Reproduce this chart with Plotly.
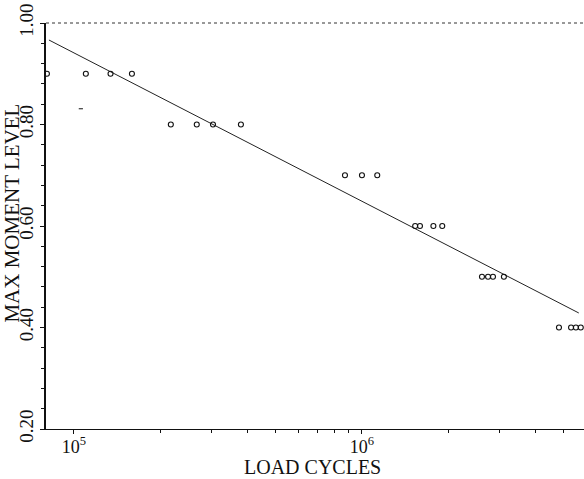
import numpy as np
import plotly.graph_objects as go

# Data
cycles = [8.06e4, 1.10e5, 1.34e5, 1.59e5,
          2.17e5, 2.67e5, 3.04e5, 3.80e5,
          8.73e5, 1.00e6, 1.13e6,
          1.53e6, 1.59e6, 1.77e6, 1.90e6,
          2.61e6, 2.74e6, 2.85e6, 3.11e6,
          4.83e6, 5.32e6, 5.53e6, 5.75e6]
levels = [0.90, 0.90, 0.90, 0.90,
          0.80, 0.80, 0.80, 0.80,
          0.70, 0.70, 0.70,
          0.60, 0.60, 0.60, 0.60,
          0.50, 0.50, 0.50, 0.50,
          0.40, 0.40, 0.40, 0.40]
stray_x = [1.057e5]
stray_y = [0.831]
fit_x = [8.19e4, 5.66e6]
fit_y = [0.9665, 0.4286]

y_ticks = [0.20, 0.40, 0.60, 0.80, 1.00]
y_ticktext = ["0.20", "0.40", "0.60", "0.80", "1.00"]
x_ticks = [1e5, 1e6]
x_ticktext = ["10<sup>5</sup>", "10<sup>6</sup>"]
x_minor = [2e5, 3e5, 4e5, 5e5, 6e5, 7e5, 8e5, 9e5, 2e6, 3e6, 4e6, 5e6]

FONT = "Liberation Serif"

fig = go.Figure()
fig.add_trace(go.Scatter(x=fit_x, y=fit_y, mode="lines",
                         line=dict(color="#222", width=1), showlegend=False))
fig.add_trace(go.Scatter(x=cycles, y=levels, mode="markers",
                         marker=dict(symbol="circle-open", size=5, color="#111",
                                     line=dict(width=1.1, color="#111")),
                         showlegend=False))
fig.add_trace(go.Scatter(x=stray_x, y=stray_y, mode="markers",
                         marker=dict(symbol="line-ew", size=3, color="#111",
                                     line=dict(width=1, color="#111")),
                         showlegend=False))

fig.update_layout(
    width=584, height=479,
    margin=dict(l=46, r=0, t=23, b=50),
    paper_bgcolor="white", plot_bgcolor="white",
    font=dict(family=FONT, size=18, color="#111"),
    xaxis=dict(type="log", range=[np.log10(8.0e4), np.log10(5.9e6)],
               tickvals=x_ticks, ticktext=x_ticktext,
               ticks="outside", ticklen=4, tickwidth=1, tickcolor="#111",
               ticklabelstandoff=-3,
               minor=dict(tickvals=x_minor, ticks="outside", ticklen=3,
                          tickwidth=1, tickcolor="#111"),
               showline=True, linecolor="#111", linewidth=1,
               mirror=False, showgrid=False, zeroline=False,
               tickfont=dict(family=FONT, size=18)),
    yaxis=dict(range=[0.20, 1.00], tickvals=y_ticks, ticktext=y_ticktext,
               tickangle=-90, ticks="outside", ticklen=4, tickwidth=1,
               tickcolor="#111",
               minor=dict(dtick=0.04, tick0=0.2, ticks="outside", ticklen=3,
                          tickwidth=1, tickcolor="#111", showgrid=False),
               showline=True, linecolor="#111", linewidth=1.5,
               showgrid=False, zeroline=False,
               tickfont=dict(family=FONT, size=19)),
    shapes=[dict(type="line", xref="paper", yref="paper", x0=0, x1=1, y0=1, y1=1,
                 line=dict(color="#333", width=1, dash="dot"))],
    annotations=[
        dict(text="LOAD CYCLES", xref="paper", yref="paper", x=0.496, y=-0.094,
             xanchor="center", yanchor="middle", showarrow=False,
             font=dict(family=FONT, size=20)),
        dict(text="MAX MOMENT LEVEL", xref="paper", yref="paper", x=-0.064, y=0.532,
             xanchor="center", yanchor="middle", textangle=-90, showarrow=False,
             font=dict(family=FONT, size=21)),
    ],
)

fig.write_html("out.html", config={"displayModeBar": False},
               post_script="document.body.style.margin='0';document.body.style.overflow='hidden';")
